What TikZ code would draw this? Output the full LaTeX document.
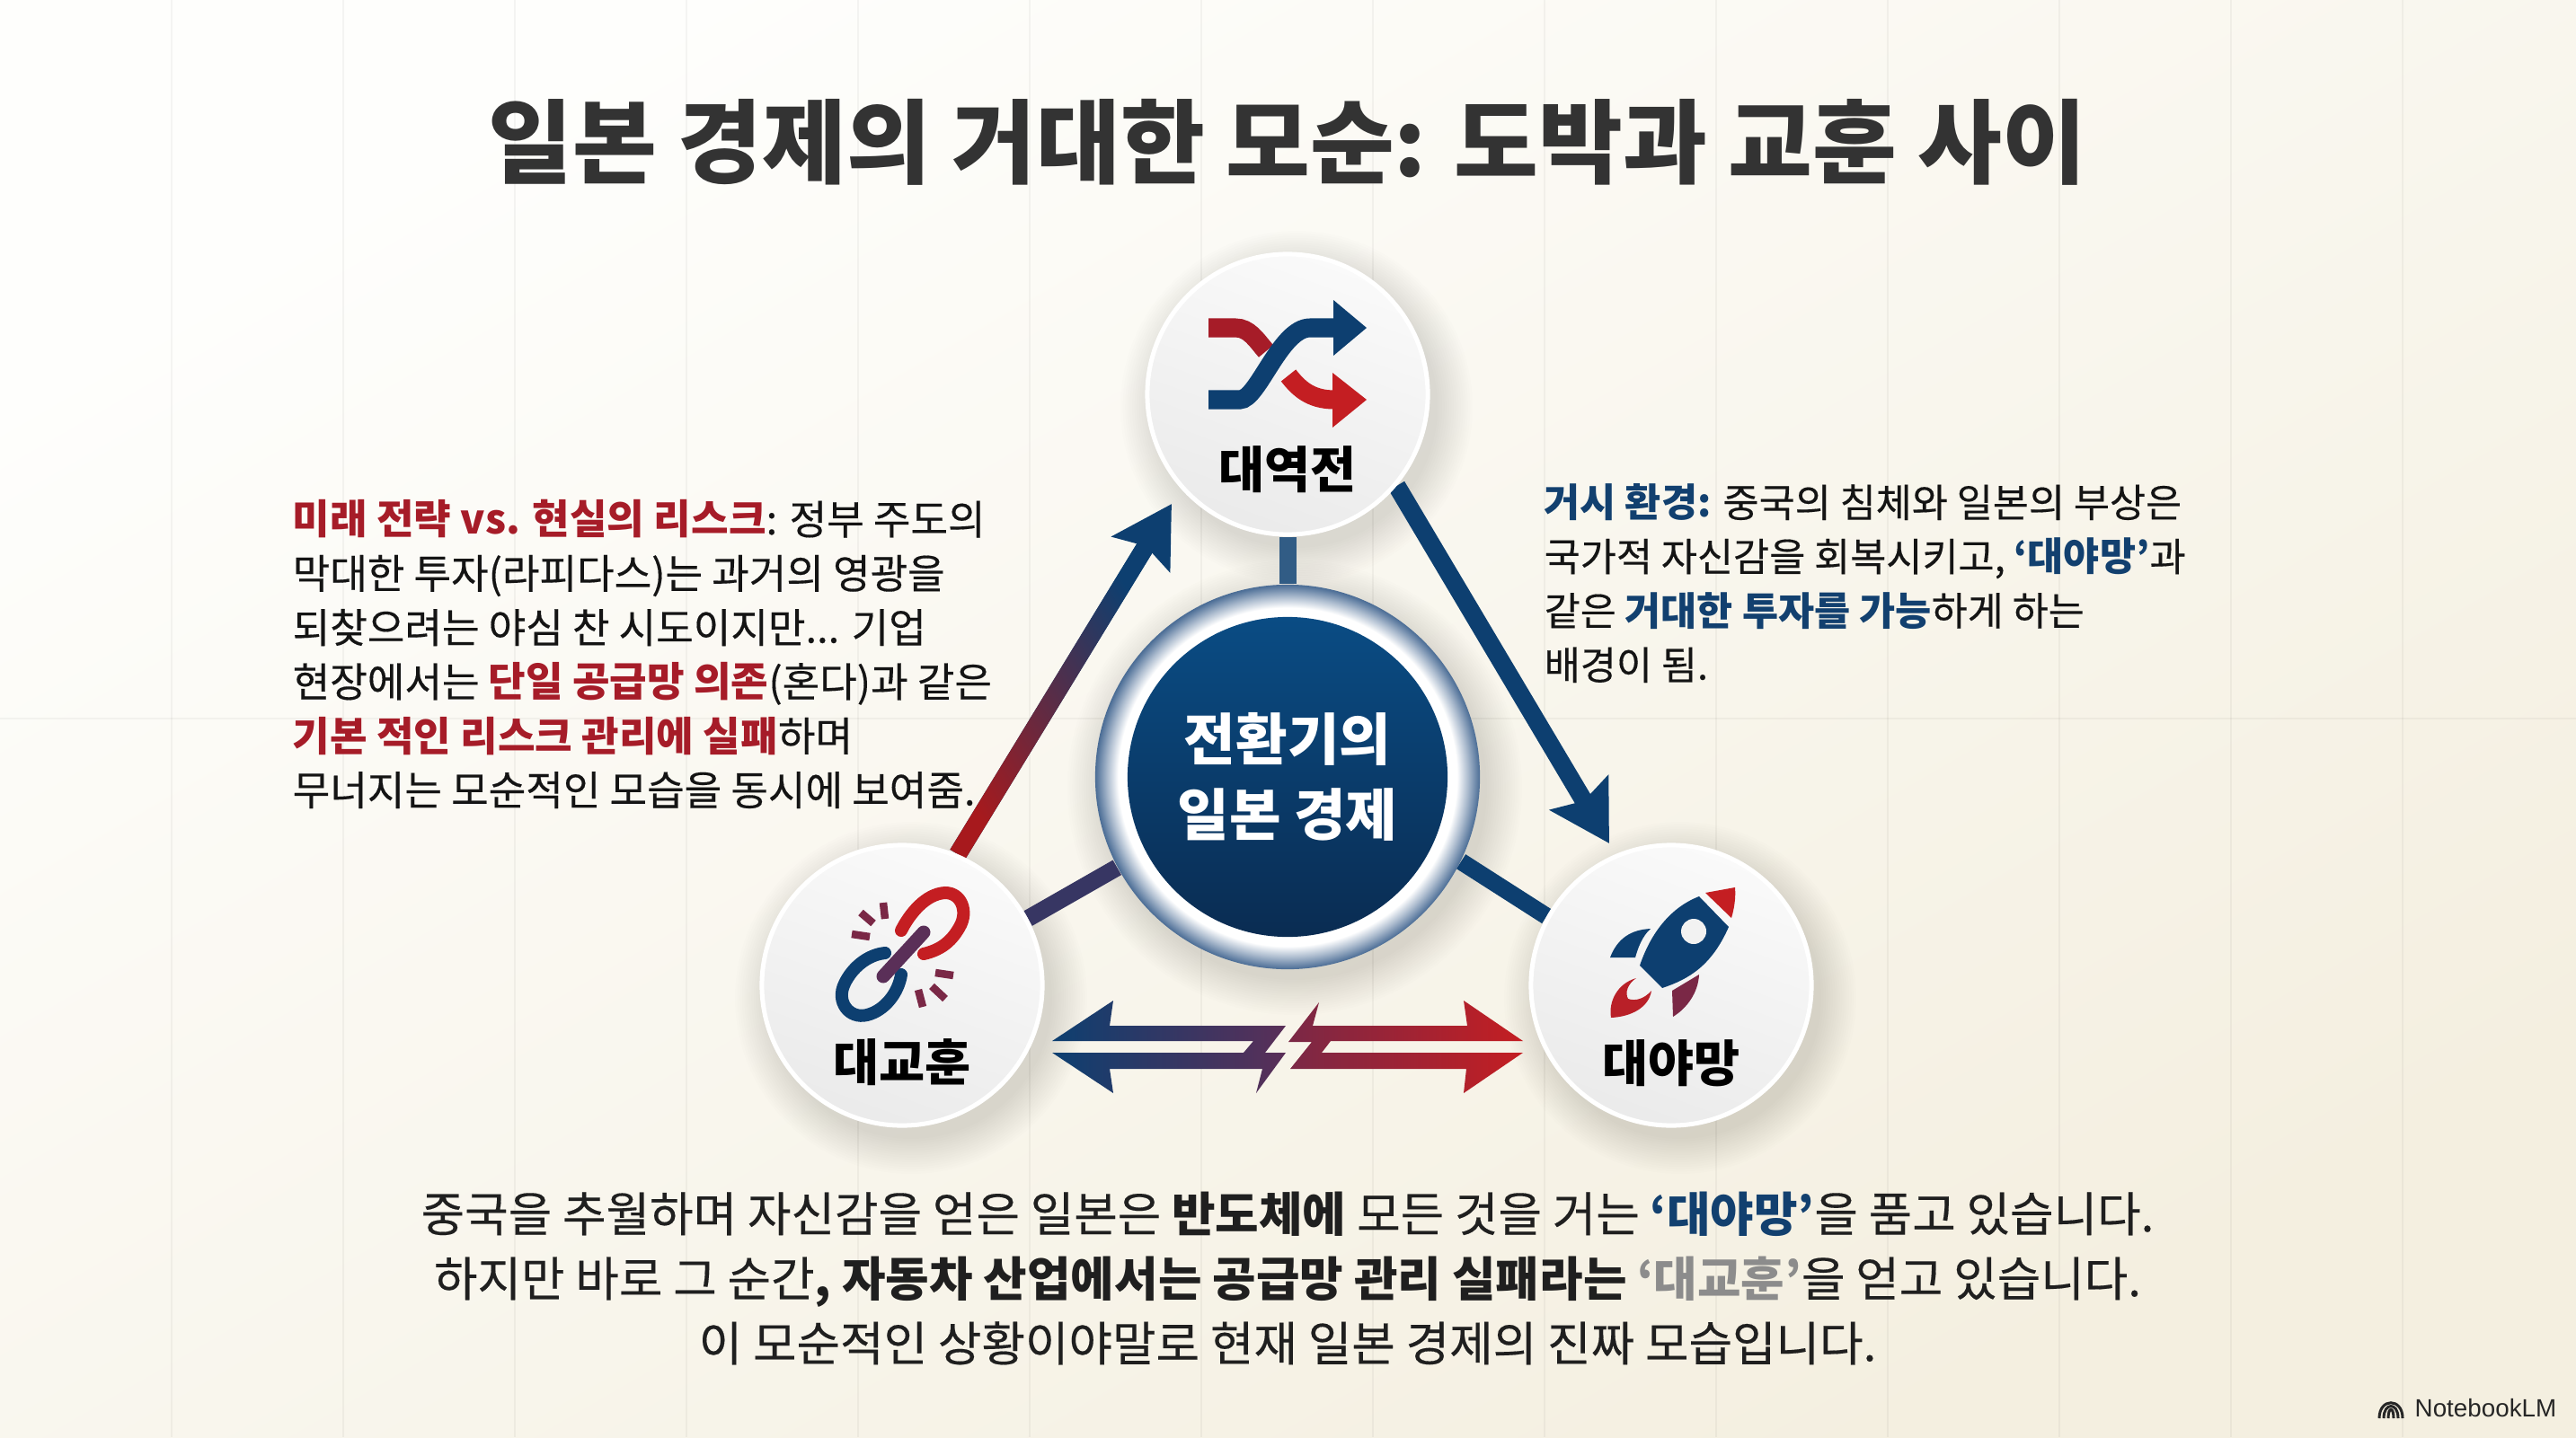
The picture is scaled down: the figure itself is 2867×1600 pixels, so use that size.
\documentclass[tikz,border=0pt]{standalone}
\usepackage{fontspec}
\setmainfont{Noto Sans CJK KR}[UprightFeatures={FakeBold=0.3}]
\newfontfamily\logofont{Liberation Sans}
\usetikzlibrary{arrows.meta,calc}
\definecolor{navy}{HTML}{0D3F70}
\definecolor{navydark}{HTML}{0A2C52}
\definecolor{navylight}{HTML}{0A4C84}
\definecolor{plum}{HTML}{5A2F58}
\definecolor{wine}{HTML}{7A2846}
\definecolor{crimson}{HTML}{C41E22}
\definecolor{noteblue}{HTML}{12406F}
\definecolor{notered}{HTML}{A61C28}
\definecolor{steel}{HTML}{4A6C95}
\definecolor{paperlight}{HTML}{FEFEFC}
\definecolor{paperdark}{HTML}{F4EFE0}
\pgfdeclarelayer{backdrop}
\pgfdeclarelayer{links}
\pgfsetlayers{backdrop,links,main}
\pgfdeclareradialshading{hubring}{\pgfpoint{0bp}{0bp}}{color(0bp)=(white); color(22bp)=(white); color(23.4bp)=(white!55!steel); color(25bp)=(steel); color(50bp)=(steel)}
% one unit is one pixel of the reference
\newcommand{\softshadow}[3]{\foreach \k in {0,...,15} {\fill[black,opacity=.009] (#1,#2) circle ({#3+2.6*\k});}}
\newcommand{\nb}[1]{\textbf{\textcolor{noteblue}{#1}}}
\newcommand{\nr}[1]{\textbf{\textcolor{notered}{#1}}}
\begin{document}
\begin{tikzpicture}[x=0.01cm,y=-0.01cm,
  badge/.style={circle,draw=white,line width=0.5mm,minimum size=3.12cm,inner sep=0pt,top color=white!98!black,bottom color=white!92!black,shading angle=-20},
  badgetext/.style={font=\fontsize{15.8}{18}\selectfont\bfseries,text=black,inner sep=0pt},
  note/.style={align=left,anchor=north west,inner sep=0pt,text=black!92},
  summary/.style={align=center,inner sep=0pt,font=\fontsize{15}{20.5}\selectfont,text=black!88},
  spoke/.style={line width=1.9mm},
  longarrow/.style={-{Stealth[length=6.5mm,width=7.4mm,inset=1mm]},line width=2mm,draw=navy},
  icon/.style={line width=2.1mm,line cap=butt},
  link/.style={line width=1.4mm,line cap=round},
  spark/.style={line width=0.85mm,draw=wine},
  gridline/.style={black,opacity=.04,line width=0.2mm}]
\useasboundingbox (0,0) rectangle (2867,1600);
\begin{pgfonlayer}{backdrop}
\shade[left color=paperlight,right color=paperdark,shading angle=30] (0,0) rectangle (2867,1600);
\foreach \x in {191,382,...,2700} {\draw[gridline] (\x,0) -- (\x,1600);}
\draw[gridline] (0,800) -- (2867,800);
\end{pgfonlayer}
\node[font=\fontsize{29}{32}\selectfont\bfseries,text=black!80,inner sep=0pt] (title) at (1433,158) {일본 경제의 거대한 모순: 도박과 교훈 사이};
\node[badge] (daeyeokjeon) at (1433,439) {};
\node[badge] (daegyohun) at (1004,1097) {};
\node[badge] (daeyamang) at (1860,1097) {};
\node[circle,shading=hubring,minimum size=4.28cm,inner sep=0pt] (hub) at (1433,865) {};
\node[circle,top color=navylight,bottom color=navydark,minimum size=3.56cm,inner sep=0pt,text=white,align=center,font=\fontsize{17.8}{23.9}\selectfont\bfseries] (hubtext) at (hub) {전환기의\\일본 경제};
\node[badgetext] (lbltop) at (1433,523) {대역전};
\node[badgetext] (lblleft) at (1004,1183) {대교훈};
\node[badgetext] (lblright) at (1860,1184) {대야망};
\coordinate (tipleft) at (1304,561);
\coordinate (tipright) at (1791,939);
\coordinate (shaftleft) at ($(daegyohun.67.6)!.88!(tipleft)$);
\begin{pgfonlayer}{links}
\softshadow{1443}{453}{157}
\softshadow{1014}{1111}{157}
\softshadow{1870}{1111}{157}
\softshadow{1441}{877}{214}
\draw[spoke,draw=navy!85!white] (hub) -- (daeyeokjeon);
\draw[spoke,draw=plum!55!navy] (hub.208) -- (daegyohun.28);
\draw[spoke,draw=navy] (hub.-26) -- (daeyamang.151);
\draw[longarrow] (daegyohun.67.6) -- (tipleft);
\draw[longarrow] (daeyeokjeon.-40) -- (tipright);
% colour run along the left shaft
\shade[left color=navy,middle color=plum,right color=crimson!85!black,shading angle=-58]
  ($(daegyohun.67.6)!1mm!90:(tipleft)$) -- ($(daegyohun.67.6)!1mm!-90:(tipleft)$)
  -- ($(shaftleft)!1mm!90:(daegyohun.67.6)$) -- ($(shaftleft)!1mm!-90:(daegyohun.67.6)$) -- cycle;
\end{pgfonlayer}
% shuffle icon
\draw[icon,draw=notered] (1345,365) -- (1375,365) .. controls (1390,365) and (1398,378) .. (1409,391);
\draw[icon,draw=crimson] (1434,418) .. controls (1445,432) and (1458,445) .. (1485,445);
\fill[crimson] (1483,415) -- (1521,445) -- (1483,476) -- cycle;
\draw[icon,draw=navy] (1345,445) -- (1380,445) .. controls (1400,445) and (1425,365) .. (1458,365) -- (1485,365);
\fill[navy] (1484,334) -- (1521,365) -- (1484,396) -- cycle;
% broken chain icon
\draw[link,draw=crimson] (1003,1036) .. controls (1012,1018) and (1030,995) .. (1052,994) .. controls (1070,994) and (1078,1015) .. (1068,1032) .. controls (1058,1050) and (1045,1058) .. (1028,1062);
\draw[link,draw=navy] (985,1061) .. controls (965,1063) and (948,1078) .. (940,1095) .. controls (930,1115) and (945,1135) .. (965,1130) .. controls (985,1125) and (1000,1105) .. (1003,1085);
\draw[line width=1.5mm,line cap=round,draw=plum] (1028,1038) -- (983,1087);
\foreach \ax/\ay/\bx/\by in {983/1005/985/1023,958/1016/972/1028,948/1040/968/1043,1041/1083/1061/1086,1037/1098/1052/1112,1022/1102/1027/1121} {\draw[spark] (\ax,\ay) -- (\bx,\by);}
% rocket icon
\fill[navy] (1891,998) -- (1924,1032) .. controls (1905,1075) and (1880,1090) .. (1850,1100) -- (1825,1075) .. controls (1835,1045) and (1855,1012) .. (1891,998) -- cycle;
\fill[white!95!black] (1885,1037) circle (14);
\fill[crimson] (1898,994) -- (1931,988) .. controls (1932,1000) and (1930,1012) .. (1927,1022) -- cycle;
\fill[navy] (1792,1066) .. controls (1800,1045) and (1815,1035) .. (1837,1034) .. controls (1828,1042) and (1823,1055) .. (1820,1066) -- cycle;
\fill[wine] (1891,1085) -- (1861,1103) -- (1862,1132) .. controls (1878,1122) and (1890,1105) .. (1891,1085) -- cycle;
\fill[crimson!85!wine] (1821,1089) .. controls (1800,1095) and (1790,1115) .. (1793,1133) .. controls (1815,1132) and (1835,1122) .. (1838,1103) .. controls (1830,1112) and (1820,1115) .. (1812,1112) .. controls (1808,1105) and (1812,1095) .. (1821,1089) -- cycle;
% clash arrows
\shade[left color=navy,right color=plum] (1171,1159) -- (1239,1114) -- (1235,1142) -- (1431,1142) -- (1408,1172) -- (1431,1172) -- (1398,1217) -- (1405,1190) -- (1235,1190) -- (1239,1217) -- (1171,1172) -- (1384,1172) -- (1395,1159) -- cycle;
\shade[left color=wine,right color=crimson] (1695,1159) -- (1629,1114) -- (1633,1142) -- (1461,1142) -- (1468,1116) -- (1434,1160) -- (1460,1160) -- (1436,1190) -- (1632,1190) -- (1629,1217) -- (1695,1172) -- (1471,1172) -- (1481,1159) -- cycle;
\node[note,font=\fontsize{12.85}{17.15}\selectfont] (noteleft) at (325,556) {\nr{미래 전략 vs. 현실의 리스크}: 정부 주도의\\막대한 투자(라피다스)는 과거의 영광을\\되찾으려는 야심 찬 시도이지만... 기업\\현장에서는 \nr{단일 공급망 의존}(혼다)과 같은\\\nr{기본 적인 리스크 관리에 실패}하며\\무너지는 모순적인 모습을 동시에 보여줌.};
\node[note,font=\fontsize{12.4}{17.15}\selectfont] (noteright) at (1718,538) {\nb{거시 환경:} 중국의 침체와 일본의 부상은\\국가적 자신감을 회복시키고, \nb{‘대야망’}과\\같은 \nb{거대한 투자를 가능}하게 하는\\배경이 됨.};
\node[summary] (summary) at (1433,1423) {중국을 추월하며 자신감을 얻은 일본은 \textbf{반도체에} 모든 것을 거는 \nb{‘대야망’}을 품고 있습니다.\\하지만 바로 그 순간\textbf{, 자동차 산업에서는 공급망 관리 실패라는} \textcolor{black!45}{\textbf{‘대교훈’}}을 얻고 있습니다.\\이 모순적인 상황이야말로 현재 일본 경제의 진짜 모습입니다.};
% logo
\node[font=\logofont\fontsize{7.9}{9}\selectfont,text=black!85,anchor=west,inner sep=0pt] (logo) at (2687,1568) {NotebookLM};
\foreach \d in {0,5,10} {\draw[black!85,line width=0.3mm] ({2648+\d},1579) .. controls ({2648+\d},{1556+\d}) and ({2674-\d},{1556+\d}) .. ({2674-\d},1579);}
\end{tikzpicture}
\end{document}
